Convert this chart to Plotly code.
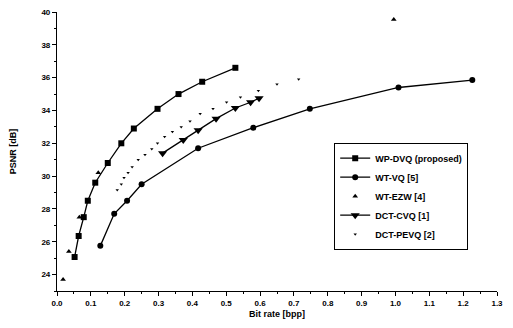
import plotly.graph_objects as go

# WP-DVQ (proposed)
wp_x = [0.052, 0.064, 0.079, 0.091, 0.113, 0.150, 0.190, 0.227, 0.297, 0.359, 0.429, 0.527]
wp_y = [25.07, 26.35, 27.5, 28.5, 29.6, 30.8, 32.0, 32.9, 34.1, 35.0, 35.75, 36.6]
# WT-VQ [5]
vq_x = [0.128, 0.169, 0.207, 0.250, 0.417, 0.580, 0.747, 1.009, 1.227]
vq_y = [25.75, 27.7, 28.5, 29.5, 31.7, 32.95, 34.1, 35.4, 35.85]
# WT-EZW [4]
ezw_x = [0.018, 0.035, 0.066, 0.122, 0.995]
ezw_y = [23.7, 25.4, 27.5, 30.2, 39.55]
# DCT-CVQ [1]
cvq_x = [0.312, 0.373, 0.417, 0.470, 0.527, 0.572, 0.597]
cvq_y = [31.4, 32.2, 32.8, 33.5, 34.15, 34.5, 34.75]
# DCT-PEVQ [2]
pevq_x = [0.178, 0.190, 0.198, 0.210, 0.222, 0.240, 0.260, 0.280, 0.297, 0.318, 0.341,
          0.367, 0.393, 0.423, 0.461, 0.501, 0.542, 0.595, 0.650, 0.714]
pevq_y = [29.15, 29.5, 29.9, 30.2, 30.55, 31.0, 31.3, 31.65, 32.0, 32.4, 32.7,
          33.0, 33.35, 33.8, 34.1, 34.5, 34.8, 35.2, 35.6, 35.9]

x_ticks = [0.0, 0.1, 0.2, 0.3, 0.4, 0.5, 0.6, 0.7, 0.8, 0.9, 1.0, 1.1, 1.2, 1.3]
y_ticks = [24, 26, 28, 30, 32, 34, 36, 38, 40]

fig = go.Figure()
fig.add_trace(go.Scatter(x=wp_x, y=wp_y, name="WP-DVQ (proposed)", mode="lines+markers",
                         line=dict(color="black", width=1.3),
                         marker=dict(symbol="square", size=6, color="black")))
fig.add_trace(go.Scatter(x=vq_x, y=vq_y, name="WT-VQ [5]", mode="lines+markers",
                         line=dict(color="black", width=1.3),
                         marker=dict(symbol="circle", size=6, color="black")))
fig.add_trace(go.Scatter(x=ezw_x, y=ezw_y, name="WT-EZW [4]", mode="markers",
                         marker=dict(symbol="triangle-up", size=5, color="black")))
fig.add_trace(go.Scatter(x=cvq_x, y=cvq_y, name="DCT-CVQ [1]", mode="lines+markers",
                         line=dict(color="black", width=1.3),
                         marker=dict(symbol="triangle-down", size=8, color="black")))
fig.add_trace(go.Scatter(x=pevq_x, y=pevq_y, name="DCT-PEVQ [2]", mode="markers",
                         marker=dict(symbol="triangle-down", size=3, color="black")))

font_fam = "Liberation Sans, Arial, sans-serif"
fig.update_layout(
    width=497, height=312,
    margin=dict(l=49, r=8, t=4, b=29),
    paper_bgcolor="white", plot_bgcolor="white",
    font=dict(family=font_fam, color="black", size=9),
    showlegend=True,
    legend=dict(x=0.63, y=0.34, xanchor="left", yanchor="middle",
                bordercolor="black", borderwidth=1, bgcolor="white",
                font=dict(size=9, family=font_fam, weight="bold"),
                tracegroupgap=0, itemwidth=30),
    xaxis=dict(range=[0, 1.3], tickvals=x_ticks, ticktext=[f"{v:.1f}" for v in x_ticks],
               showline=True, linecolor="black", linewidth=1.2, ticks="outside",
               ticklen=4, tickcolor="black", showgrid=False, zeroline=False,
               ticklabeloverflow="allow", automargin=False,
               minor=dict(dtick=0.05, ticks="outside", ticklen=2, tickcolor="black", showgrid=False),
               tickfont=dict(size=8, family=font_fam, weight="bold"),
               title=dict(text="Bit rate [bpp]", font=dict(size=9, family=font_fam, weight="bold"),
                          standoff=3)),
    yaxis=dict(range=[23, 40], tickvals=y_ticks, ticktext=[str(v) for v in y_ticks],
               showline=True, linecolor="black", linewidth=1.2, ticks="outside",
               ticklen=4, tickcolor="black", showgrid=False, zeroline=False,
               ticklabeloverflow="allow", automargin=False,
               minor=dict(dtick=1, ticks="outside", ticklen=2, tickcolor="black", showgrid=False),
               tickfont=dict(size=8, family=font_fam, weight="bold"),
               title=dict(text="PSNR [dB]", font=dict(size=9, family=font_fam, weight="bold"),
                          standoff=24)),
)

fig.write_html("out.html")
